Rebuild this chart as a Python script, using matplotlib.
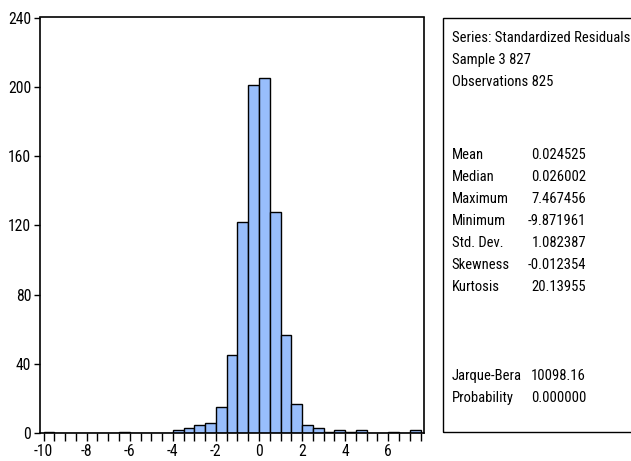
import matplotlib
matplotlib.use("Agg")
import matplotlib.pyplot as plt
from matplotlib import font_manager
from matplotlib.font_manager import FontProperties
from matplotlib.patches import Rectangle
from matplotlib.ticker import MultipleLocator

# ---- data ----
bin_left = [-10.0, -9.5, -9.0, -8.5, -8.0, -7.5, -7.0, -6.5, -6.0, -5.5, -5.0, -4.5,
            -4.0, -3.5, -3.0, -2.5, -2.0, -1.5, -1.0, -0.5, 0.0, 0.5, 1.0, 1.5,
            2.0, 2.5, 3.0, 3.5, 4.0, 4.5, 5.0, 5.5, 6.0, 6.5, 7.0]
counts = [1, 0, 0, 0, 0, 0, 0, 1, 0, 0, 0, 0,
          2, 3, 5, 6, 15, 45, 122, 201, 205, 128, 57, 17,
          5, 3, 1, 2, 1, 2, 0, 0, 1, 0, 2]
bin_width = 0.5
x_ticks = [-10, -8, -6, -4, -2, 0, 2, 4, 6]
y_ticks = [0, 40, 80, 120, 160, 200, 240]

header_lines = ["Series: Standardized Residuals", "Sample 3 827", "Observations 825"]
stat_names = ["Mean", "Median", "Maximum", "Minimum", "Std. Dev.", "Skewness", "Kurtosis"]
stat_values = ["0.024525", "0.026002", "7.467456", "-9.871961", "1.082387", "-0.012354", "20.13955"]
test_names = ["Jarque-Bera", "Probability"]
test_values = ["10098.16", "0.000000"]


# ---- font: prefer a narrow / condensed sans ----
def pick_font():
    entries = font_manager.fontManager.ttflist
    def regular(f):
        return f.style == "normal" and str(f.weight) in ("400", "normal", "regular", "book")
    for cand in ["Liberation Sans Narrow", "Arial Narrow", "Roboto Condensed",
                 "DejaVu Sans Condensed", "Nimbus Sans Narrow", "Open Sans Condensed"]:
        for f in entries:
            if f.name == cand and regular(f):
                return FontProperties(fname=f.fname)
    for f in entries:
        if str(f.stretch) in ("condensed", "semi-condensed") and regular(f) \
                and "Mono" not in f.name and "Serif" not in f.name:
            return FontProperties(fname=f.fname)
    return FontProperties(family="Liberation Sans")


base_fp = pick_font()

W, H = 631, 461
fig = plt.figure(figsize=(W / 100, H / 100), dpi=100)
renderer = fig.canvas.get_renderer()


def fitted_size(text, target_px, ref_size=10.0, max_size=13.0):
    fp = base_fp.copy()
    fp.set_size(ref_size)
    t = fig.text(0, 0, text, fontproperties=fp)
    w = t.get_window_extent(renderer).width
    t.remove()
    return min(max_size, ref_size * target_px / w)


stat_size = fitted_size("Series: Standardized Residuals", 176.0)
tick_size = fitted_size("240", 23.0, max_size=12.0)

stat_fp = base_fp.copy()
stat_fp.set_size(stat_size)
tick_fp = base_fp.copy()
tick_fp.set_size(tick_size)

# axes in pixel coords
ax_l, ax_r, ax_t, ax_b = 39.5, 424.0, 17.5, 433.3
ax = fig.add_axes([ax_l / W, 1 - ax_b / H, (ax_r - ax_l) / W, (ax_b - ax_t) / H])

ax.bar(bin_left, counts, width=bin_width, align="edge", color="#98BEFC",
       edgecolor="black", linewidth=1.0)
ax.set_xlim(-10.19, 7.66)
ax.set_ylim(0, 240)
ax.set_xticks(x_ticks)
ax.set_xticklabels([str(v) for v in x_ticks], fontproperties=tick_fp)
ax.set_yticks(y_ticks)
ax.set_yticklabels([str(v) for v in y_ticks], fontproperties=tick_fp)
ax.xaxis.set_minor_locator(MultipleLocator(0.5))
ax.tick_params(axis="x", which="both", direction="out", length=6, width=1, pad=2,
               colors="black")
ax.tick_params(axis="y", which="major", direction="out", length=4, width=1, pad=2,
               colors="black")
for s in ax.spines.values():
    s.set_linewidth(1.2)
    s.set_color("black")

# ---- statistics box ----
bx_l, bx_t, bx_b = 443.3, 18.3, 431.7
box = Rectangle((bx_l / W, 1 - bx_b / H), (W + 5 - bx_l) / W, (bx_b - bx_t) / H,
                transform=fig.transFigure, fill=False, edgecolor="black", linewidth=1.0,
                clip_on=False)
fig.patches.append(box)

lab_x = 451.5 / W
val_x = 586 / W


def ypos(py):
    return 1 - py / H


header_y = [38, 60, 82]
for t, py in zip(header_lines, header_y):
    fig.text(lab_x, ypos(py), t, fontproperties=stat_fp, va="center", ha="left")

stat_y = [155, 177, 199, 221, 243, 265, 287]
for n, v, py in zip(stat_names, stat_values, stat_y):
    fig.text(lab_x, ypos(py), n, fontproperties=stat_fp, va="center", ha="left")
    fig.text(val_x, ypos(py), v, fontproperties=stat_fp, va="center", ha="right")

test_y = [376, 398]
for n, v, py in zip(test_names, test_values, test_y):
    fig.text(lab_x, ypos(py), n, fontproperties=stat_fp, va="center", ha="left")
    fig.text(val_x, ypos(py), v, fontproperties=stat_fp, va="center", ha="right")

fig.savefig("out.png", dpi=100)
